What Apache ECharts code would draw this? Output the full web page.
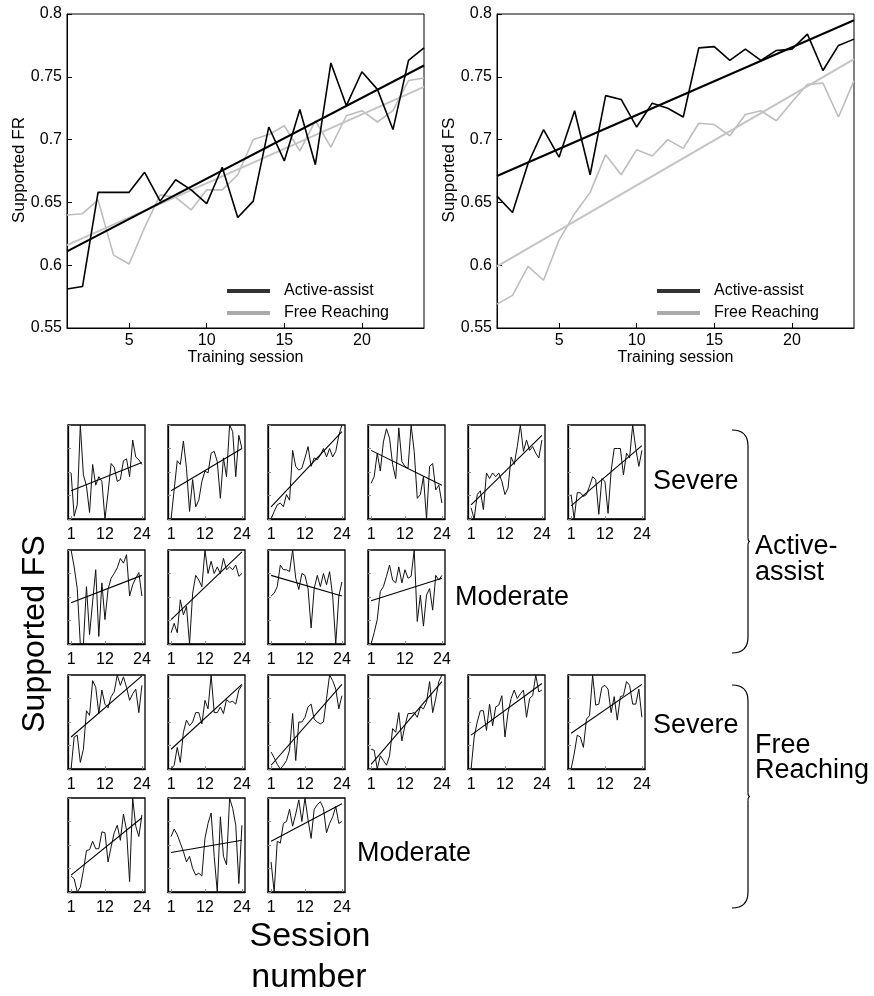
<!DOCTYPE html>
<html><head><meta charset="utf-8">
<script src="https://cdn.jsdelivr.net/npm/echarts@6/dist/echarts.min.js"></script>
<style>html,body{margin:0;padding:0;background:#fff}#c{width:874px;height:996px}</style>
</head><body><div id="c"></div>
<script>
// ---------- DATA ----------
const sessions = [1,2,3,4,5,6,7,8,9,10,11,12,13,14,15,16,17,18,19,20,21,22,23,24];
const topXTicks = [5,10,15,20];
const smallXTicks = [1,12,24];

// Top-left: Supported FR
const frActive = [0.581,0.583,0.658,0.658,0.658,0.674,0.651,0.668,0.660,0.649,0.678,0.638,0.651,0.710,0.683,0.724,0.680,0.761,0.727,0.754,0.740,0.708,0.763,0.773];
const frFree   = [0.640,0.641,0.652,0.608,0.601,0.630,0.656,0.654,0.644,0.660,0.660,0.672,0.700,0.704,0.711,0.691,0.715,0.694,0.719,0.723,0.714,0.723,0.747,0.749];
const frActiveFit = [0.611,0.759];
const frFreeFit   = [0.616,0.742];

// Top-right: Supported FS
const fsActive = [0.655,0.642,0.681,0.708,0.686,0.723,0.672,0.735,0.732,0.710,0.729,0.725,0.718,0.773,0.774,0.763,0.772,0.763,0.771,0.772,0.784,0.755,0.775,0.780];
const fsFree   = [0.569,0.576,0.599,0.588,0.620,0.641,0.658,0.688,0.672,0.692,0.687,0.700,0.693,0.713,0.712,0.703,0.720,0.723,0.715,0.730,0.744,0.745,0.718,0.747];
const fsActiveFit = [0.671,0.795];
const fsFreeFit   = [0.599,0.764];

// Small multiples (per-subject Supported FS, each scaled to its own range)
const aaSevere = [
 [0.49,0.03,0.15,1.0,0.47,0.35,0.07,0.58,0.36,0.45,0.40,0.0,0.28,0.59,0.55,0.40,0.42,0.62,0.64,0.45,0.84,0.66,0.63,0.58],
 [0.0,0.31,0.62,0.58,0.83,0.54,0.08,0.42,0.13,0.20,0.40,0.51,0.49,0.70,0.72,0.61,0.22,0.65,0.45,1.0,0.93,0.45,0.89,0.75],
 [0.0,0.08,0.15,0.17,0.13,0.26,0.20,0.73,0.56,0.52,0.54,0.65,0.77,0.56,0.65,0.63,0.68,0.75,0.66,0.75,0.66,0.72,0.89,1.0],
 [0.38,0.45,0.70,0.51,0.82,0.96,0.86,0.58,0.43,0.97,0.61,0.56,0.54,1.0,0.72,0.22,0.26,0.45,0.0,0.56,0.59,0.31,0.36,0.17],
 [0.12,0.0,0.26,0.30,0.10,0.49,0.43,0.49,0.45,0.49,0.40,0.26,0.33,0.66,0.58,0.77,1.0,0.72,0.84,0.73,0.77,0.70,0.65,0.84],
 [0.26,0.0,0.28,0.28,0.24,0.26,0.35,0.45,0.42,0.05,0.43,0.40,0.06,0.51,0.75,0.75,0.75,0.47,0.70,0.65,1.0,0.75,0.56,0.73]
];
const aaSevereFit = [[0.30,0.60],[0.30,0.75],[0.13,0.93],[0.73,0.36],[0.15,0.89],[0.14,0.78]];

const aaModerate = [
 [1.0,0.82,0.59,0.0,0.0,0.61,0.10,0.45,0.79,0.08,0.65,0.26,0.58,0.70,0.75,0.81,0.91,0.86,0.95,0.51,0.63,0.70,0.76,0.51],
 [0.12,0.22,0.12,0.47,0.31,0.40,0.0,0.54,0.73,0.68,0.61,1.0,0.75,0.88,0.75,0.82,0.75,0.91,0.79,0.82,0.79,0.84,0.72,0.75],
 [0.51,0.54,0.61,0.84,0.79,0.79,0.77,1.0,0.70,0.58,0.75,0.73,0.59,0.17,0.59,0.73,0.61,0.75,0.63,0.77,0.51,0.0,0.51,0.66],
 [0.0,0.12,0.26,0.56,0.61,0.72,0.84,0.68,0.65,0.82,0.65,0.79,0.70,0.72,1.0,0.24,0.52,0.19,0.52,0.59,0.36,0.73,0.68,0.73]
];
const aaModerateFit = [[0.44,0.73],[0.26,0.98],[0.73,0.51],[0.46,0.70]];

const frSevere = [
 [0.0,0.34,0.36,0.07,0.21,0.62,0.57,0.94,0.87,0.59,0.84,0.69,0.65,0.77,0.82,1.0,0.89,0.98,0.87,0.73,0.80,0.85,0.60,0.89],
 [0.0,0.04,0.23,0.07,0.39,0.52,0.46,0.50,0.60,0.60,0.48,0.73,0.64,1.0,0.60,0.60,0.66,0.59,0.74,0.71,0.72,0.69,0.84,0.89],
 [0.18,0.12,0.05,0.0,0.04,0.09,0.20,0.59,0.09,0.50,0.50,0.55,0.66,0.69,0.53,0.50,0.48,0.50,0.75,1.0,0.94,0.85,0.64,0.78],
 [0.21,0.20,0.0,0.14,0.09,0.04,0.14,0.43,0.39,0.60,0.30,0.46,0.59,0.59,0.60,0.55,0.66,0.64,0.71,0.93,0.60,0.75,0.93,1.0],
 [0.0,0.34,0.50,0.62,0.62,0.41,0.69,0.46,0.66,0.68,0.78,0.34,0.60,0.75,0.84,0.75,0.80,0.84,0.55,0.75,0.78,1.0,0.82,0.84],
 [0.0,0.16,0.36,0.34,0.23,0.53,0.57,1.0,0.68,0.69,0.87,0.89,0.85,0.60,0.77,0.52,0.77,0.78,0.93,0.89,0.69,0.69,0.85,0.55]
];
const frSevereFit = [[0.34,0.99],[0.21,0.90],[0.04,0.90],[0.05,0.93],[0.36,0.91],[0.38,0.90]];

const frModerate = [
 [0.17,0.14,0.0,0.05,0.23,0.44,0.45,0.54,0.46,0.46,0.64,0.63,0.32,0.48,0.63,0.71,0.55,0.83,0.66,0.11,1.0,0.70,0.59,0.82],
 [0.59,0.67,0.61,0.52,0.43,0.32,0.38,0.25,0.18,0.20,0.17,0.57,0.73,0.84,0.38,0.0,0.80,0.38,0.29,1.0,0.89,0.71,0.09,0.71],
 [0.32,0.0,0.54,0.52,0.73,0.75,0.88,0.70,0.83,0.98,0.75,1.0,0.77,0.57,0.88,0.93,0.96,0.89,0.63,0.73,0.80,0.91,0.73,0.75]
];
const frModerateFit = [[0.18,0.79],[0.42,0.55],[0.54,0.94]];

// ---------- BUILD ----------
const FONT = 'Liberation Sans, Arial, Helvetica, sans-serif';
const grids = [], xAxes = [], yAxes = [], series = [], graphics = [];
const pairs = arr => sessions.map((s, i) => [s, arr[i]]);
const fitPairs = f => [[sessions[0], f[0]], [sessions[sessions.length - 1], f[1]]];

function topChart(left, yName, act, fre, actFit, freFit, nameX) {
  const gi = grids.length;
  grids.push({left: left, top: 14, width: 357, height: 314, show: true, borderColor: '#000', borderWidth: 1, backgroundColor: 'transparent'});
  xAxes.push({gridIndex: gi, type: 'value', min: 1, max: 24,
    axisLine: {show: true, onZero: false, lineStyle: {color: '#000', width: 1}},
    axisTick: {show: true, inside: true, length: 5, customValues: topXTicks, lineStyle: {color: '#000'}},
    axisLabel: {show: true, customValues: topXTicks, color: '#000', fontSize: 16, fontFamily: FONT, margin: 5},
    splitLine: {show: false},
    name: 'Training session', nameLocation: 'middle', nameGap: 19,
    nameTextStyle: {color: '#000', fontSize: 16, fontFamily: FONT}});
  yAxes.push({gridIndex: gi, type: 'value', min: 0.55, max: 0.8, interval: 0.05,
    axisLine: {show: true, onZero: false, lineStyle: {color: '#000', width: 1}},
    axisTick: {show: true, inside: true, length: 5, lineStyle: {color: '#000'}},
    axisLabel: {color: '#000', fontSize: 16, fontFamily: FONT, margin: 5,
      formatter: v => String(parseFloat(v.toFixed(2)))},
    splitLine: {show: false}});
  series.push({name: 'Active-assist', type: 'line', xAxisIndex: gi, yAxisIndex: gi, data: pairs(act),
    showSymbol: false, lineStyle: {color: '#000', width: 1.6}, itemStyle: {color: '#333'}, z: 3});
  series.push({name: 'Free Reaching', type: 'line', xAxisIndex: gi, yAxisIndex: gi, data: pairs(fre),
    showSymbol: false, lineStyle: {color: '#bdbdbd', width: 1.6}, itemStyle: {color: '#aaa'}, z: 2});
  series.push({name: 'AA fit ' + gi, type: 'line', xAxisIndex: gi, yAxisIndex: gi, data: fitPairs(actFit),
    showSymbol: false, lineStyle: {color: '#000', width: 2}, z: 3});
  series.push({name: 'FR fit ' + gi, type: 'line', xAxisIndex: gi, yAxisIndex: gi, data: fitPairs(freFit),
    showSymbol: false, lineStyle: {color: '#c4c4c4', width: 2}, z: 2});
  graphics.push({type: 'text', x: nameX, y: 170, rotation: Math.PI / 2,
    style: {text: yName, fontSize: 17, fontFamily: FONT, fill: '#000', align: 'center', verticalAlign: 'middle'}});
}
topChart(67, 'Supported FR', frActive, frFree, frActiveFit, frFreeFit, 19);
topChart(497, 'Supported FS', fsActive, fsFree, fsActiveFit, fsFreeFit, 449);

const lefts = [68, 168, 268, 368, 468, 568];
const rows = [
  {top: 425, data: aaSevere, fit: aaSevereFit},
  {top: 550, data: aaModerate, fit: aaModerateFit},
  {top: 675, data: frSevere, fit: frSevereFit},
  {top: 798, data: frModerate, fit: frModerateFit}
];
rows.forEach((row, r) => {
  row.data.forEach((vals, k) => {
    const gi = grids.length;
    grids.push({left: lefts[k], top: row.top, width: 77, height: 94, show: true, borderColor: '#000', borderWidth: 1.3, backgroundColor: 'transparent'});
    xAxes.push({gridIndex: gi, type: 'value', min: 0, max: 25,
      axisLine: {show: true, onZero: false, lineStyle: {color: '#000', width: 1.3}},
      axisTick: {show: true, inside: true, length: 3, customValues: smallXTicks, lineStyle: {color: '#888'}},
      axisLabel: {show: true, customValues: smallXTicks, color: '#000', fontSize: 16, fontFamily: FONT, margin: 8},
      splitLine: {show: false}});
    yAxes.push({gridIndex: gi, type: 'value', min: 0, max: 1, interval: 0.25,
      axisLine: {show: true, onZero: false, lineStyle: {color: '#000', width: 1.3}},
      axisTick: {show: true, inside: true, length: 3, lineStyle: {color: '#888'}},
      axisLabel: {show: false}, splitLine: {show: false}});
    series.push({name: 'subj ' + r + '-' + k, type: 'line', xAxisIndex: gi, yAxisIndex: gi, data: pairs(vals),
      showSymbol: false, lineStyle: {color: '#111', width: 1}, z: 2});
    series.push({name: 'subj fit ' + r + '-' + k, type: 'line', xAxisIndex: gi, yAxisIndex: gi, data: fitPairs(row.fit[k]),
      showSymbol: false, lineStyle: {color: '#000', width: 1.1}, z: 3});
  });
});

function txt(text, x, y, size, align, rot) {
  graphics.push({type: 'text', x: x, y: y, rotation: rot || 0,
    style: {text: text, fontSize: size, fontFamily: FONT, fill: '#000', align: align || 'left', verticalAlign: 'middle'}});
}
txt('Severe', 653, 482, 27);
txt('Moderate', 455, 598, 27);
txt('Severe', 653, 726, 27);
txt('Moderate', 357, 854, 27);
txt('Active-', 755, 547, 27);
txt('assist', 755, 573, 27);
txt('Free', 755, 746, 27);
txt('Reaching', 755, 771, 27);
txt('Supported FS', 35, 634, 32, 'center', Math.PI / 2);
txt('Session', 310, 937, 34, 'center');
txt('number', 309, 978, 34, 'center');

const braceStyle = {stroke: '#000', lineWidth: 1.2, fill: 'none'};
function curve(x1, y1, cx, cy, x2, y2) {
  graphics.push({type: 'bezierCurve', shape: {x1: x1, y1: y1, cpx1: cx, cpy1: cy, x2: x2, y2: y2}, style: braceStyle});
}
function seg(x1, y1, x2, y2) {
  graphics.push({type: 'line', shape: {x1: x1, y1: y1, x2: x2, y2: y2}, style: braceStyle});
}
function brace(top, bottom) {
  const mid = (top + bottom) / 2;
  curve(732, top, 748, top, 748, top + 16);
  seg(748, top + 16, 748, mid - 4);
  curve(748, mid - 4, 748, mid, 750, mid);
  curve(750, mid, 748, mid, 748, mid + 4);
  seg(748, mid + 4, 748, bottom - 16);
  curve(748, bottom - 16, 748, bottom, 732, bottom);
}
brace(430, 653);
brace(685, 908);

const legendBase = {
  orient: 'vertical', icon: 'rect', itemWidth: 43, itemHeight: 4, itemGap: 6,
  textStyle: {color: '#000', fontSize: 16, fontFamily: FONT, lineHeight: 16, padding: [0, 0, 0, 9]},
  data: [{name: 'Active-assist', itemStyle: {color: '#333'}}, {name: 'Free Reaching', itemStyle: {color: '#aaa'}}],
  selectedMode: false
};

const chart = echarts.init(document.getElementById('c'), null, {renderer: 'canvas'});
chart.setOption({
  animation: false,
  backgroundColor: '#fff',
  grid: grids, xAxis: xAxes, yAxis: yAxes, series: series,
  legend: [Object.assign({left: 222, top: 278}, legendBase), Object.assign({left: 652, top: 278}, legendBase)],
  graphic: graphics
});
</script></body></html>
